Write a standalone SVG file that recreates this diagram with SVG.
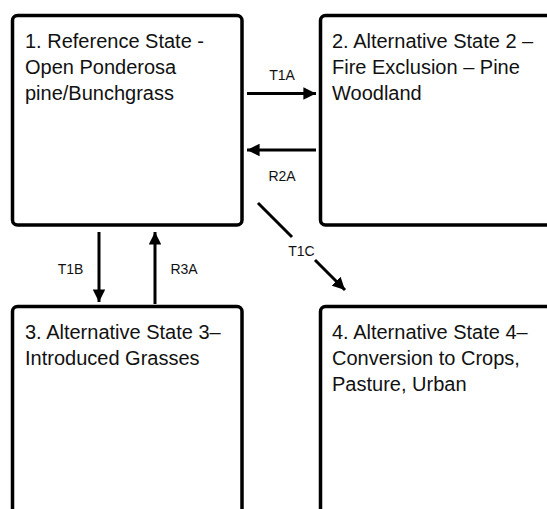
<svg xmlns="http://www.w3.org/2000/svg" width="547" height="509" viewBox="0 0 547 509">
<style>
.box{fill:#fff;stroke:#000;stroke-width:3.5}
.t{font-family:"Liberation Sans",Arial,sans-serif;font-size:20px;fill:#111}
.lbl{font-family:"Liberation Sans",Arial,sans-serif;font-size:14px;fill:#111;text-anchor:middle}
.c{fill:none;stroke:#000;stroke-width:3}
</style>
<defs>
<marker id="ah" viewBox="0 0 10 10" refX="10" refY="5" markerWidth="4.2" markerHeight="4.2" orient="auto" markerUnits="strokeWidth">
<path d="M0,0 L10,5 L0,10 Z" fill="#000"/>
</marker>
</defs>
<rect width="547" height="509" fill="#fff"/>
<g id="node1">
<rect class="box" x="12.5" y="15.5" width="229.5" height="209.5" rx="5"/>
<text class="t" x="25" y="47.5">1. Reference State -</text>
<text class="t" x="25" y="73.5">Open Ponderosa</text>
<text class="t" x="25" y="99.5">pine/Bunchgrass</text>
</g>
<g id="node2">
<rect class="box" x="320.5" y="15.5" width="240" height="209.5" rx="5"/>
<text class="t" x="332" y="47.5">2. Alternative State 2 –</text>
<text class="t" x="332" y="73.5">Fire Exclusion – Pine</text>
<text class="t" x="332" y="99.5">Woodland</text>
</g>
<g id="node3">
<rect class="box" x="12.5" y="306.5" width="229.5" height="230" rx="5"/>
<text class="t" x="25" y="338.5">3. Alternative State 3–</text>
<text class="t" x="25" y="364.5">Introduced Grasses</text>
</g>
<g id="node4">
<rect class="box" x="320.5" y="306.5" width="240" height="230" rx="5"/>
<text class="t" x="332" y="338.5">4. Alternative State 4–</text>
<text class="t" x="332" y="364.5">Conversion to Crops,</text>
<text class="t" x="332" y="390.5">Pasture, Urban</text>
</g>
<g id="connectors">
<path class="c" d="M247,93.5 L316,93.5" marker-end="url(#ah)"/>
<text class="lbl" x="282" y="80">T1A</text>
<path class="c" d="M316,150 L247,150" marker-end="url(#ah)"/>
<text class="lbl" x="282" y="181">R2A</text>
<path class="c" d="M258,203 L292,237 M315,260 L345,290" marker-end="url(#ah)"/>
<text class="lbl" x="301.5" y="256">T1C</text>
<path class="c" d="M99,232 L99,302" marker-end="url(#ah)"/>
<text class="lbl" x="70.5" y="273.5">T1B</text>
<path class="c" d="M155,304 L155,232" marker-end="url(#ah)"/>
<text class="lbl" x="184" y="273.5">R3A</text>
</g>
</svg>
